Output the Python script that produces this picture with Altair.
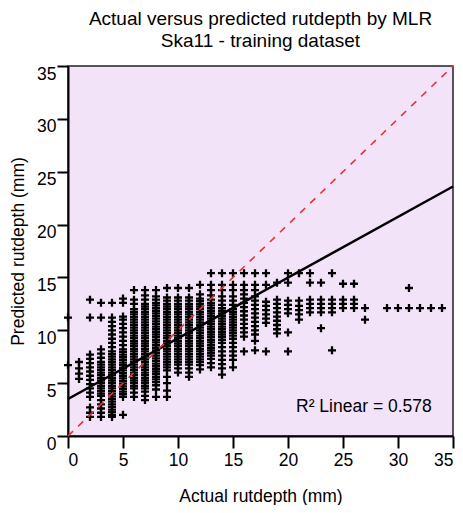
import altair as alt
import pandas as pd

# Actual rutdepth columns (integer mm) and the predicted values stacked in each
actual_vals = list(range(0, 35))
pred_cols = {
    0: [6.7, 11.2],
    1: [5.4, 5.9, 6.4, 7.0],
    2: [1.8, 2.2, 2.7, 3.7, 4.1, 4.5, 4.9, 5.3, 5.7, 6.1, 6.5, 6.9, 7.3, 7.7, 11.2, 12.9],
    3: [1.8, 2.2, 2.6, 3.0, 3.4, 3.8, 4.0, 4.25, 4.5, 4.75, 5.0, 5.25, 5.5, 5.75, 6.0, 6.25, 6.5, 6.75,
        7.0, 7.4, 7.8, 8.2, 11.2, 12.6],
    4: [1.8, 2.0, 2.25, 2.5, 2.75, 3.0, 3.25, 3.5, 3.75, 4.0, 4.25, 4.5, 4.75, 5.0, 5.25, 5.5, 5.75,
        6.0, 6.25, 6.5, 6.75, 7.0, 7.25, 7.5, 7.75, 8.0, 8.4, 8.8, 9.2, 9.6, 10.0, 10.4, 10.8, 11.2, 12.6],
    5: [2.0, 3.7, 3.95, 4.2, 4.45, 4.7, 4.95, 5.2, 5.45, 5.7, 5.95, 6.2, 6.45, 6.7, 6.95, 7.2, 7.45,
        7.7, 7.95, 8.2, 8.6, 9.0, 9.4, 9.8, 10.2, 10.6, 11.0, 11.3, 12.6, 13.0],
    6: [3.7, 4.1, 4.5, 4.75, 5.0, 5.25, 5.5, 5.75, 6.0, 6.25, 6.5, 6.75, 7.0, 7.25, 7.5, 7.75, 8.0,
        8.25, 8.5, 8.75, 9.0, 9.25, 9.5, 9.75, 10.0, 10.25, 10.5, 10.75, 11.0, 11.25, 11.5, 11.75,
        12.0, 12.5, 12.9, 13.8],
    7: [3.4, 3.8, 4.2, 4.5, 4.75, 5.0, 5.25, 5.5, 5.75, 6.0, 6.25, 6.5, 6.75, 7.0, 7.25, 7.5, 7.75,
        8.0, 8.25, 8.5, 8.75, 9.0, 9.25, 9.5, 9.75, 10.0, 10.25, 10.5, 10.75, 11.0, 11.25, 11.5,
        11.75, 12.0, 12.25, 12.5, 12.9, 13.3, 13.8],
    8: [3.7, 4.4, 4.8, 5.1, 5.35, 5.6, 5.85, 6.1, 6.35, 6.6, 6.85, 7.1, 7.35, 7.6, 7.85, 8.1, 8.35,
        8.6, 8.85, 9.1, 9.35, 9.6, 9.85, 10.1, 10.35, 10.6, 10.85, 11.1, 11.35, 11.6, 11.85, 12.1,
        12.35, 12.6, 12.9, 13.2, 13.8],
    9: [3.7, 4.3, 5.0, 5.6, 6.2, 6.5, 6.75, 7.0, 7.25, 7.5, 7.75, 8.0, 8.25, 8.5, 8.75, 9.0, 9.25,
        9.5, 9.75, 10.0, 10.25, 10.5, 10.75, 11.0, 11.25, 11.5, 11.75, 12.0, 12.25, 12.5, 12.8, 13.1, 14.0],
    10: [6.0, 6.4, 6.75, 7.0, 7.25, 7.5, 7.75, 8.0, 8.25, 8.5, 8.75, 9.0, 9.25, 9.5, 9.75, 10.0,
         10.25, 10.5, 10.75, 11.0, 11.25, 11.5, 11.75, 12.0, 12.25, 12.5, 12.8, 13.1, 14.0],
    11: [5.6, 6.0, 6.4, 6.75, 7.0, 7.25, 7.5, 7.75, 8.0, 8.25, 8.5, 8.75, 9.0, 9.25, 9.5, 9.75, 10.0,
         10.25, 10.5, 10.75, 11.0, 11.25, 11.5, 11.75, 12.0, 12.25, 12.5, 12.8, 13.1, 14.0],
    12: [6.3, 6.7, 7.0, 7.25, 7.5, 7.75, 8.0, 8.25, 8.5, 8.75, 9.0, 9.25, 9.5, 9.75, 10.0, 10.25,
         10.5, 10.75, 11.0, 11.25, 11.5, 11.75, 12.0, 12.25, 12.5, 12.75, 13.0, 13.4, 14.3],
    13: [6.5, 6.9, 7.3, 7.6, 7.85, 8.1, 8.35, 8.6, 8.85, 9.1, 9.35, 9.6, 9.85, 10.1, 10.35, 10.6,
         10.85, 11.1, 11.35, 11.6, 11.85, 12.1, 12.35, 12.6, 12.9, 13.3, 13.8, 14.3, 15.4],
    14: [5.8, 6.4, 6.8, 7.2, 7.6, 8.0, 8.4, 8.8, 9.1, 9.35, 9.6, 9.85, 10.1, 10.35, 10.6, 10.85,
         11.1, 11.35, 11.6, 11.85, 12.1, 12.4, 12.8, 13.2, 13.8, 14.3, 15.4],
    15: [6.5, 7.2, 7.6, 8.0, 8.4, 8.8, 9.2, 9.5, 9.75, 10.0, 10.25, 10.5, 10.75, 11.0, 11.25, 11.5,
         11.75, 12.0, 12.4, 12.8, 13.2, 13.8, 14.3, 15.4],
    16: [8.0, 9.4, 9.8, 10.2, 10.6, 11.0, 11.4, 11.8, 12.2, 12.6, 13.0, 13.4, 13.8, 14.3, 15.4],
    17: [8.1, 9.0, 9.6, 10.0, 10.4, 10.8, 11.2, 11.6, 12.0, 12.4, 12.8, 13.2, 13.8, 14.3, 15.4],
    18: [8.0, 10.7, 11.1, 11.5, 11.9, 12.3, 12.7, 14.3, 15.4],
    19: [9.7, 10.1, 10.5, 10.9, 11.3, 11.7, 12.1, 12.5, 12.9, 14.5],
    20: [8.0, 9.8, 11.6, 12.0, 12.4, 12.8, 14.5, 15.4],
    21: [11.0, 11.5, 11.9, 12.3, 12.8, 15.4],
    22: [11.7, 12.1, 12.5, 12.9, 14.5, 15.4],
    23: [10.2, 11.7, 12.1, 12.5, 12.9, 14.5],
    24: [8.1, 11.7, 12.1, 12.5, 12.9, 15.4],
    25: [12.1, 12.5, 12.9, 14.4],
    26: [12.1, 12.5, 12.9, 14.4],
    27: [11.0, 12.1],
    29: [12.1],
    30: [12.1],
    31: [12.1, 14.0],
    32: [12.1],
    33: [12.1],
    34: [12.1],
}

rows = [{"actual": a, "pred": p} for a in actual_vals if a in pred_cols for p in pred_cols[a]]
pts = pd.DataFrame(rows)

diag_x = [0, 35]
diag_y = [0, 35]
fit_x = [0, 35]
fit_y = [3.5, 23.6]
r2_label = ["R\u00b2 Linear = 0.578"]
r2_x = [26.9]
r2_y = [2.75]

ticks = [0, 5, 10, 15, 20, 25, 30, 35]
FONT = "Liberation Sans"

xs = alt.Scale(domain=[0, 35], nice=False)
ys = alt.Scale(domain=[0, 35], nice=False)

x_axis = alt.Axis(values=ticks, title="Actual rutdepth (mm)", grid=False,
                  tickSize=12, tickWidth=2, labelPadding=3, domainWidth=2,
                  titlePadding=18.5, labelFontSize=17.5, titleFontSize=17.5)
y_axis = alt.Axis(values=ticks, title="Predicted rutdepth (mm)", grid=False,
                  tickSize=11, tickWidth=2, labelPadding=1, domainWidth=2,
                  labelBaseline="top", labelOffset=-1,
                  titlePadding=9, labelFontSize=17.5, titleFontSize=17.5)

points = alt.Chart(pts).mark_point(
    shape="M-1,0H1M0,-1V1", size=64, strokeWidth=2.3, color="black",
    filled=False, opacity=1,
).encode(
    x=alt.X("actual:Q", scale=xs, axis=x_axis),
    y=alt.Y("pred:Q", scale=ys, axis=y_axis),
)

diag = alt.Chart(pd.DataFrame({"x": diag_x, "y": diag_y})).mark_line(
    color="#e8303a", strokeWidth=1.6, strokeDash=[7, 7]
).encode(x=alt.X("x:Q", scale=xs), y=alt.Y("y:Q", scale=ys))

fit = alt.Chart(pd.DataFrame({"x": fit_x, "y": fit_y})).mark_line(
    color="black", strokeWidth=2.5
).encode(x=alt.X("x:Q", scale=xs), y=alt.Y("y:Q", scale=ys))

label = alt.Chart(pd.DataFrame({"t": r2_label, "x": r2_x, "y": r2_y})).mark_text(
    font=FONT, fontSize=17.5, color="black", align="center", baseline="middle"
).encode(x=alt.X("x:Q", scale=xs), y=alt.Y("y:Q", scale=ys), text="t:N")

chart = alt.layer(points, fit, diag, label).properties(
    width=385, height=370,
    title=alt.Title(["Actual versus predicted rutdepth by MLR", "Ska11 - training dataset"],
                    font=FONT, fontSize=19, fontWeight="normal", color="black",
                    anchor="middle", offset=12, lineHeight=21.5),
    autosize=alt.AutoSizeParams(type="none"),
    padding={"left": 60, "top": 58, "right": 2, "bottom": 69},
).configure_view(
    fill="#f3e3f9", stroke="#222222", strokeWidth=1.5
).configure_axis(
    labelFont=FONT, titleFont=FONT, labelColor="black", titleColor="black",
    domainColor="black", tickColor="black", titleFontWeight="normal",
)

chart.save("out.html", embed_options={"renderer": "svg", "actions": False})
